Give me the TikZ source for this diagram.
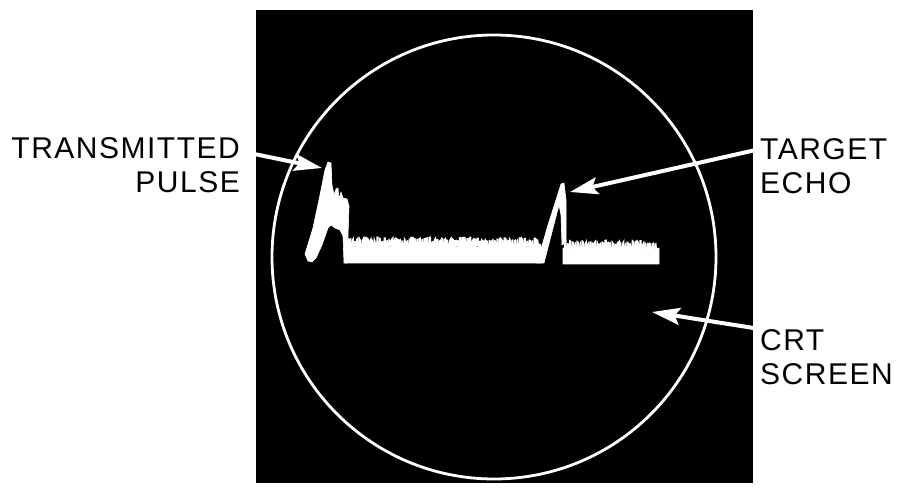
\documentclass[tikz,border=0pt]{standalone}
\usepackage{fontspec}
\newfontfamily\calloutfont[LetterSpace=5]{Liberation Sans}
\usetikzlibrary{arrows.meta,decorations.pathmorphing}
\tikzset
{
    callout/.style = {font=\calloutfont\fontsize{30}{34.5}\selectfont, inner sep=0pt},
    pointer/.style = {draw=white, line width=4pt, -{Stealth[length=28pt,width=17pt,inset=5pt]}},
    trace/.style   = {fill=white, draw=white, line width=0.6pt, line join=round},
    noisy/.style   = {decoration={random steps, segment length=2pt, amplitude=2pt}}
}

\begin{document}
\begin{tikzpicture}[x=1pt, y=-1pt]
	\useasboundingbox (0,0) rectangle (899,494);
	\pgfmathsetseed{17}
	% screen
	\fill[black] (256,10) rectangle (753,483);
	\draw[white, line width=2.8pt] (494,257) circle (222);
	% transmitted pulse
	\fill[trace] (308,261) -- (305,254) -- (313,228) -- (320,195) -- (325,170) -- (328,162)
		-- (331,163) -- (332,185) -- (334,195) -- (336,189) -- (338,188) -- (339,199)
		-- (341,192) -- (343,198) -- (347,199) -- (349,206) -- (348,235) -- (347,263)
		-- (344,263) -- (343,236) -- (340,230) -- (335,228) -- (331,225) -- (328,228)
		-- (322,245) -- (316,258) -- (312,262) -- cycle;
	\fill[trace, noisy] (345,263) -- (345,245) decorate {-- (541,245)} -- (541,263) -- cycle;
	\foreach \x in {346,348.5,...,538}
		\fill[white] (\x,246) -- (\x+0.5*rnd,{242-6*rnd}) -- (\x+2+rnd,{241-5*rnd}) -- (\x+3,246) -- cycle;
	% target echo
	\fill[trace] (537,263) -- (548,225) -- (556,200) -- (561,184) -- (564,183) -- (566,200)
		-- (566,242) -- (562,245) -- (561,215) -- (559,205) -- (553,228) -- (544,263) -- cycle;
	\fill[trace, noisy] (563,264) -- (563,248) decorate {-- (659,248)} -- (659,264) -- cycle;
	\foreach \x in {564,566.5,...,656}
		\fill[white] (\x,249) -- (\x+0.5*rnd,{245-6*rnd}) -- (\x+2+rnd,{244-5*rnd}) -- (\x+3,249) -- cycle;
	% labels
	\node[callout, anchor=north east, align=right] (tpulse) at (240,137) {TRANSMITTED\\PULSE};
	\node[callout, anchor=north west, align=left] (techo) at (760,138) {TARGET\\ECHO};
	\node[callout, anchor=north west, align=left] (crt) at (760,329) {CRT\\SCREEN};
	\coordinate (pulsetip) at (322,168);
	\coordinate (echotip) at (570,192);
	\coordinate (screentip) at (652,312);
	\draw[pointer] (tpulse.7) -- (pulsetip);
	\draw[pointer] (techo.165) -- (echotip);
	\draw[pointer] (crt.north west) -- (screentip);
\end{tikzpicture}
\end{document}
